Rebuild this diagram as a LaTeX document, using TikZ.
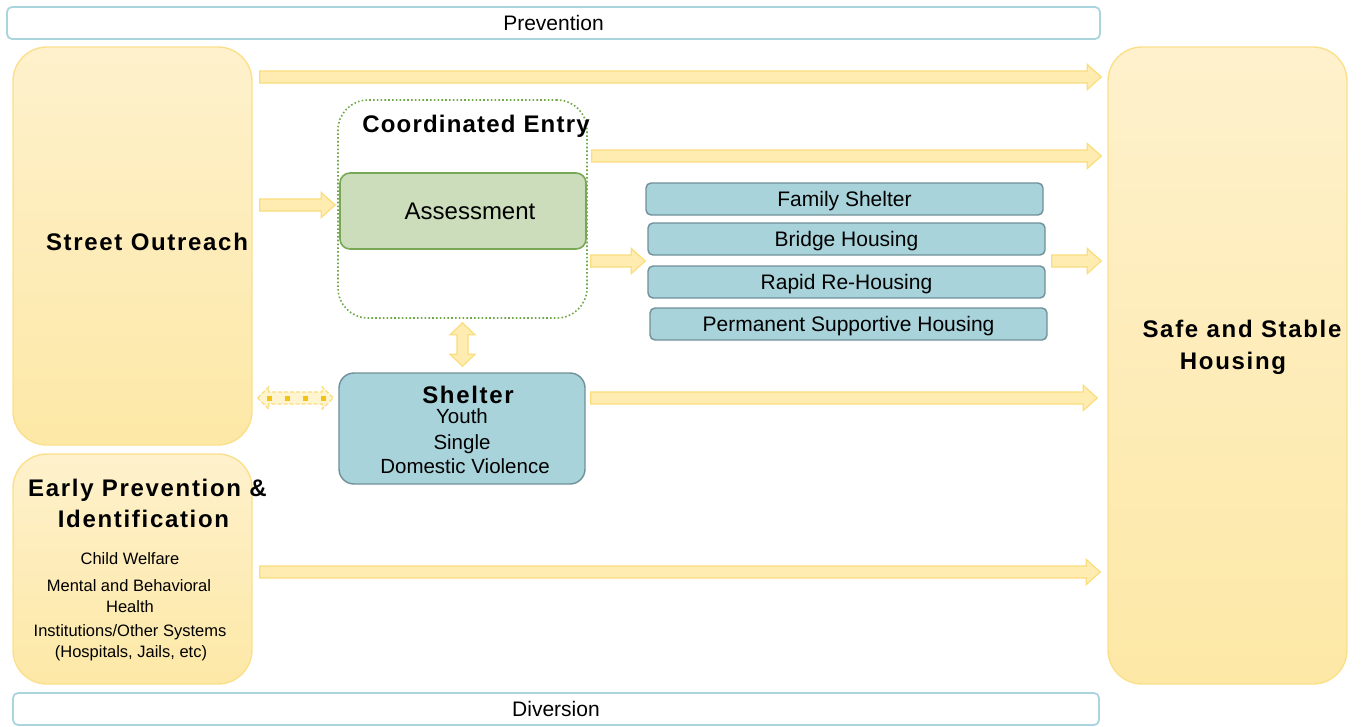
\documentclass[tikz,border=0pt]{standalone}
\usepackage{fontspec}
\setmainfont{Liberation Sans}
\usetikzlibrary{calc}
\definecolor{prevB}{RGB}{170,212,222}
\definecolor{yTop}{RGB}{254,241,204}
\definecolor{yBot}{RGB}{253,232,166}
\definecolor{yBord}{RGB}{251,224,140}
\definecolor{arFill}{RGB}{254,236,176}
\definecolor{arBord}{RGB}{250,221,124}
\definecolor{ceGreen}{RGB}{112,168,71}
\definecolor{assFill}{RGB}{203,221,187}
\definecolor{assBord}{RGB}{120,168,85}
\definecolor{tealFill}{RGB}{169,211,218}
\definecolor{tealBord}{RGB}{112,144,152}
\definecolor{goldD}{RGB}{242,195,20}
\tikzset{
  prevbox/.style={draw=prevB, line width=1.8pt, fill=white, rounded corners=5pt, inner sep=0pt, text depth=0pt, font=\fontsize{21}{24}\selectfont},
  ybox/.style={draw=yBord, line width=1.4pt, top color=yTop, bottom color=yBot, rounded corners=34pt, inner sep=0pt},
  cebox/.style={draw=ceGreen, line width=1.6pt, dash pattern=on 1.6pt off 2.2pt, rounded corners=30pt, inner sep=0pt},
  assbox/.style={draw=assBord, line width=1.6pt, fill=assFill, rounded corners=10pt, inner sep=0pt},
  hbox/.style={draw=tealBord, line width=1.4pt, fill=tealFill, rounded corners=5pt, inner sep=0pt, text height=15pt, text depth=0pt, font=\fontsize{21}{24}\selectfont},
  shbox/.style={draw=tealBord, line width=1.4pt, fill=tealFill, rounded corners=15pt, inner sep=0pt},
  head/.style={inner sep=0pt, text height=17pt, text depth=0pt, font=\fontsize{24}{28}\selectfont\bfseries\addfontfeature{LetterSpace=7}},
  bodytxt/.style={inner sep=0pt, text height=15pt, text depth=0pt, font=\fontsize{20.5}{24}\selectfont},
  smalltxt/.style={inner sep=0pt, text height=12pt, text depth=0pt, font=\fontsize{16.5}{20}\selectfont},
  blockar/.style={draw=arBord, line width=1.2pt, fill=arFill},
  harrow/.style={blockar, to path={let \p1=(\tikztostart), \p2=(\tikztotarget) in
     (\x1,\y1+6pt) -- (\x2-14pt,\y1+6pt) -- (\x2-14pt,\y1+12.5pt) -- (\x2,\y1)
     -- (\x2-14pt,\y1-12.5pt) -- (\x2-14pt,\y1-6pt) -- (\x1,\y1-6pt) -- cycle}},
  vdarrow/.style={blockar, to path={let \p1=(\tikztostart), \p2=(\tikztotarget) in
     (\x1,\y1) -- (\x1+12.5pt,\y1-12pt) -- (\x1+5.5pt,\y1-12pt) -- (\x1+5.5pt,\y2+12pt)
     -- (\x1+12.5pt,\y2+12pt) -- (\x1,\y2) -- (\x1-12.5pt,\y2+12pt) -- (\x1-5.5pt,\y2+12pt)
     -- (\x1-5.5pt,\y1-12pt) -- (\x1-12.5pt,\y1-12pt) -- cycle}},
  hdarrow/.style={draw=arBord, line width=1.3pt, dash pattern=on 4pt off 2pt, fill=arFill!60!white,
     to path={let \p1=(\tikztostart), \p2=(\tikztotarget) in
     (\x1,\y1) -- (\x1+11pt,\y1+11pt) -- (\x1+11pt,\y1+6pt) -- (\x2-11pt,\y1+6pt)
     -- (\x2-11pt,\y1+11pt) -- (\x2,\y1) -- (\x2-11pt,\y1-11pt) -- (\x2-11pt,\y1-6pt)
     -- (\x1+11pt,\y1-6pt) -- (\x1+11pt,\y1-11pt) -- cycle}},
  golddash/.style={draw=goldD, line width=5pt, dash pattern=on 5pt off 13pt}
}
\begin{document}
\begin{tikzpicture}[x=1pt,y=-1pt]
\useasboundingbox (0,0) rectangle (1367,726);
% frames
\node[prevbox, minimum width=1093, minimum height=32] (prev) at (553.5,23) {Prevention};
\node[prevbox, minimum width=1086, minimum height=32] (div) at (556,709) {Diversion};
% yellow boxes
\node[ybox, minimum width=239, minimum height=398] (so) at (132.5,246) {};
\node[ybox, minimum width=239, minimum height=230] (ep) at (132.5,569) {};
\node[ybox, minimum width=239, minimum height=637] (safe) at (1227.5,365.5) {};
\node[head] (sot) at (147,242) {Street Outreach};
\node[head] (ept1) at (147.5,488) {Early Prevention \&};
\node[head] (ept2) at (143.5,519) {Identification};
\node[smalltxt] (ep1) at (130,558) {Child Welfare};
\node[smalltxt] (ep2) at (129,585) {Mental and Behavioral};
\node[smalltxt] (ep3) at (130,606) {Health};
\node[smalltxt] (ep4) at (130,630) {Institutions/Other Systems};
\node[smalltxt] (ep5) at (131,651) {(Hospitals, Jails, etc)};
\node[head] (sft1) at (1242,329) {Safe and Stable};
\node[head] (sft2) at (1233,361) {Housing};
% coordinated entry
\node[cebox, minimum width=249, minimum height=218] (ce) at (462.5,209) {};
\node[head, font=\fontsize{24}{28}\selectfont\bfseries\addfontfeature{LetterSpace=5}] (cet) at (476,124) {Coordinated Entry};
\node[assbox, minimum width=246, minimum height=76] (ass) at (463,211) {};
\node[inner sep=0pt, text height=17pt, text depth=0pt, font=\fontsize{24}{28}\selectfont] (asst) at (470,211) {Assessment};
% housing options
\node[hbox, minimum width=397, minimum height=32] (fs) at (844.5,199) {Family Shelter};
\node[hbox, minimum width=397, minimum height=32] (bh) at (846.5,239) {Bridge Housing};
\node[hbox, minimum width=397, minimum height=32] (rr) at (846.5,282) {Rapid Re-Housing};
\node[hbox, minimum width=397, minimum height=32] (psh) at (848.5,324) {Permanent Supportive Housing};
% shelter
\node[shbox, minimum width=246, minimum height=111] (sh) at (462,428.5) {};
\node[head] (sht) at (468,395) {Shelter};
\node[bodytxt] (sh1) at (462,416) {Youth};
\node[bodytxt] (sh2) at (462,442) {Single};
\node[bodytxt] (sh3) at (465,466) {Domestic Violence};
% arrow rows
\coordinate (r1) at (0,77);
\coordinate (r2) at (0,156);
\coordinate (r3) at (0,205);
\coordinate (r4) at (0,261);
\coordinate (r5) at (0,398);
\coordinate (r6) at (0,572);
\draw[harrow] ([xshift=7pt]so.east |- r1) to ([xshift=-6pt]safe.west |- r1);
\draw[harrow] ([xshift=4pt]ce.east |- r2) to ([xshift=-6pt]safe.west |- r2);
\draw[harrow] ([xshift=7pt]so.east |- r3) to ([xshift=-4pt]ass.west |- r3);
\draw[harrow] ([xshift=4pt]ass.east |- r4) to ([xshift=-2pt]bh.west |- r4);
\draw[harrow] ([xshift=6pt]bh.east |- r4) to ([xshift=-6pt]safe.west |- r4);
\draw[harrow] ([xshift=5pt]sh.east |- r5) to ([xshift=-10pt]safe.west |- r5);
\draw[harrow] ([xshift=7pt]ep.east |- r6) to ([xshift=-7pt]safe.west |- r6);
\draw[vdarrow] ([yshift=-4pt]ce.south) to ([yshift=6pt]sh.north);
\draw[hdarrow] ([xshift=5pt]so.east |- r5) to ([xshift=-5pt]sh.west |- r5);
\draw[golddash] ([xshift=14pt]so.east |- r5) -- ([xshift=-8pt]sh.west |- r5);
\end{tikzpicture}
\end{document}
